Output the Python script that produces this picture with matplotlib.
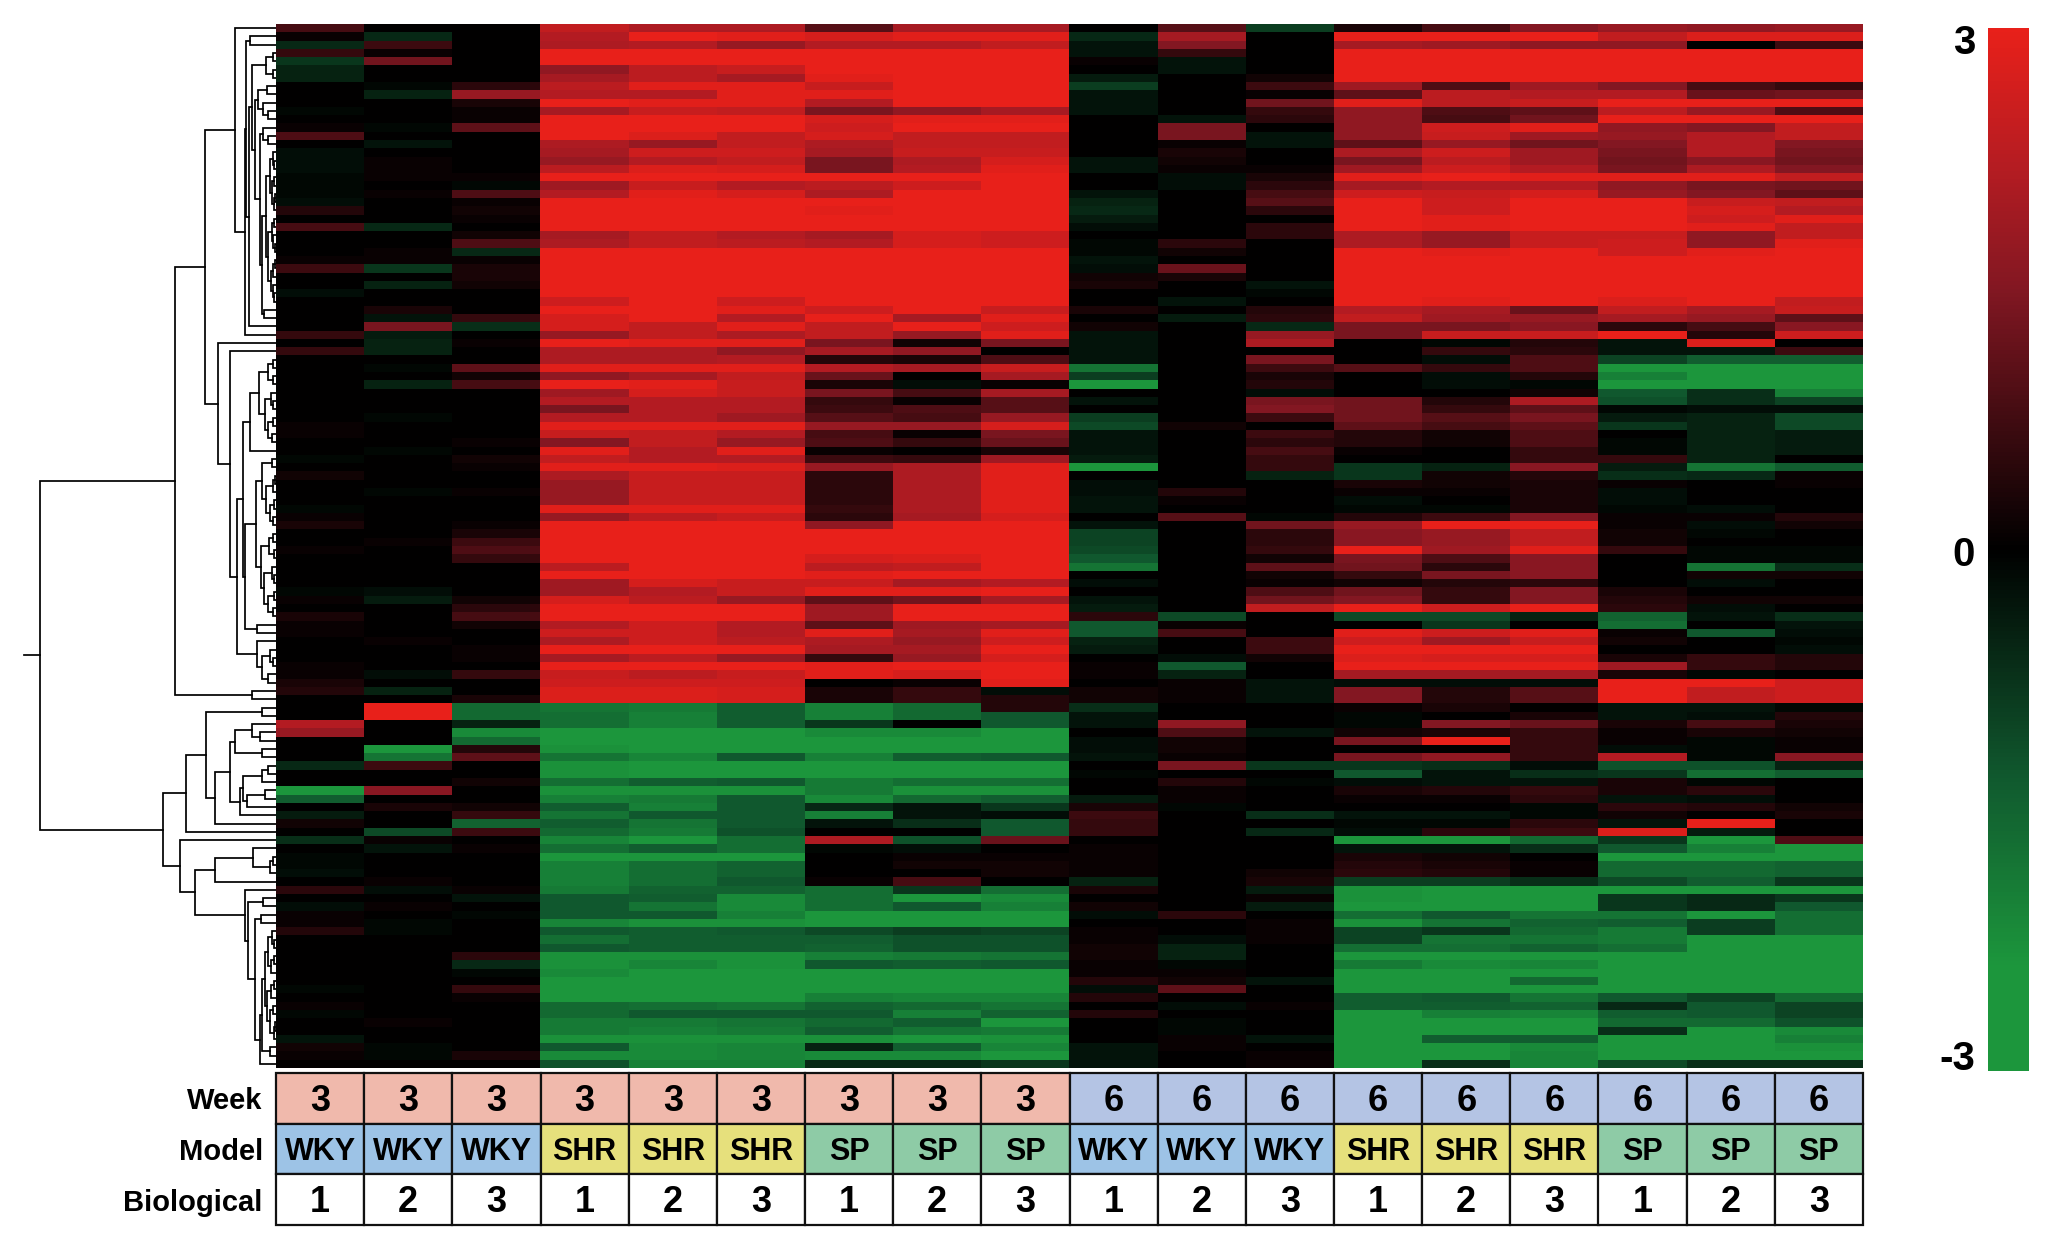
#!/usr/bin/env python3
# -*- coding: utf-8 -*-
import matplotlib
matplotlib.use("Agg")
import matplotlib.pyplot as plt
from matplotlib.colors import LinearSegmentedColormap
from matplotlib.patches import Rectangle
import numpy as np

# log2 fold change per gene, in tenths, read top to bottom. One list per sample.
wky3_1 = [8,1,-6,6,-8,-5,-5,0,0,0,-1,0,1,9,0,-2,-2,-2,-1,-1,-1,
          -2,4,0,8,0,0,0,1,7,0,0,-2,0,0,0,0,6,0,6,0,0,
          0,0,0,0,0,0,1,1,0,0,-1,0,2,0,0,0,-1,1,3,0,0,
          1,0,0,0,0,-1,1,0,3,1,1,0,0,0,1,1,3,4,0,0,0,
          22,18,0,0,0,-6,0,0,-24,-14,0,-4,2,0,-7,0,-1,-1,-2,0,5,
          0,-2,1,1,4,0,0,0,0,0,0,-1,0,1,-1,0,0,-3,2,1,0]
wky3_2 = [0,-6,7,1,13,0,0,-1,-5,0,0,0,-1,0,-3,0,1,1,1,0,1,
          0,0,0,-6,0,0,1,1,-8,0,-5,0,0,3,-3,14,-4,-5,-5,0,-1,
          0,-5,0,0,0,-1,0,0,0,-1,0,0,0,0,-1,0,0,0,0,0,1,
          0,0,0,0,0,-2,-4,0,0,0,0,1,0,0,0,-2,0,-5,0,30,30,
          0,0,0,-24,-18,7,0,0,16,0,3,0,0,-11,1,-3,0,0,0,1,-2,
          0,1,0,-1,-1,0,0,0,0,0,0,0,0,0,0,1,0,0,-1,-1,0]
wky3_3 = [0,0,0,0,0,0,0,5,18,3,1,1,11,0,0,0,0,0,1,-1,9,
          1,2,1,0,2,9,-6,1,3,3,2,0,0,0,6,-7,0,1,0,0,11,
          2,8,0,0,0,0,0,0,1,0,2,1,0,0,1,0,0,0,1,3,7,
          9,6,0,0,0,0,2,5,8,2,0,0,1,1,0,6,0,0,3,-16,-16,
          -5,-22,-16,4,11,0,0,2,0,0,2,6,-15,7,0,1,0,0,0,0,1,
          -3,0,-1,0,0,0,0,5,-6,-1,0,6,1,0,0,0,0,0,0,3,0]
shr3_1 = [24,22,21,30,30,17,20,23,22,30,20,30,30,30,21,20,18,23,30,19,22,
          30,30,30,30,20,21,30,30,30,30,30,30,26,30,27,27,18,30,21,21,29,
          17,30,19,22,14,22,29,25,15,29,24,29,21,18,18,18,29,18,30,30,30,
          30,30,23,30,19,19,27,30,30,22,26,21,30,20,30,25,26,28,28,-18,-17,
          -17,-24,-24,-23,-18,-23,-23,-17,-23,-20,-14,-18,-14,-16,-21,-17,-24,-20,-20,-20,-19,
          -13,-13,-13,-21,-13,-17,-13,-23,-23,-22,-24,-24,-24,-16,-16,-19,-19,-23,-13,-22,-12]
shr3_2 = [21,30,22,30,30,23,23,29,22,29,25,30,30,28,18,26,22,28,30,25,29,
          30,30,30,30,24,24,30,30,30,30,30,30,30,30,30,24,24,29,21,21,29,
          20,29,27,22,22,22,29,24,24,22,22,29,25,25,25,25,29,23,30,30,30,
          30,30,30,30,27,22,23,30,30,26,26,26,30,23,30,23,26,28,28,-19,-20,
          -20,-24,-24,-24,-21,-24,-24,-14,-23,-19,-20,-13,-18,-19,-24,-14,-24,-17,-17,-17,-15,
          -14,-18,-13,-23,-14,-14,-14,-23,-21,-24,-24,-24,-24,-17,-13,-19,-20,-23,-22,-22,-20]
shr3_3 = [21,29,18,30,30,25,20,29,29,29,24,30,30,24,24,26,24,27,30,22,27,
          30,30,30,30,22,23,30,30,30,30,30,30,26,29,22,29,21,29,17,22,29,
          24,25,25,22,22,19,29,22,18,29,22,28,25,25,25,25,29,25,30,30,30,
          30,30,30,30,25,25,18,30,30,22,22,23,30,18,30,25,26,27,27,-14,-14,
          -14,-24,-24,-24,-13,-24,-24,-13,-23,-13,-13,-13,-13,-12,-17,-17,-24,-15,-15,-13,-15,
          -22,-22,-20,-23,-13,-14,-14,-23,-23,-24,-24,-24,-24,-18,-13,-18,-19,-23,-21,-21,-20]
sp3_1 = [10,27,22,30,30,30,29,25,29,22,14,27,26,27,21,20,14,14,30,23,21,
         30,29,30,30,20,22,30,30,30,30,30,30,30,26,30,24,24,14,20,4,22,
         12,3,14,6,7,10,18,8,9,1,7,18,5,5,5,5,6,5,17,30,30,
         30,27,23,29,25,29,11,19,19,11,29,21,20,6,29,29,0,3,3,-20,-20,
         -8,-22,-24,-24,-20,-24,-24,-19,-19,-22,-6,-20,-3,0,21,-1,0,0,0,1,-17,
         -17,-17,-24,-24,-11,-14,-15,-20,-13,-24,-24,-24,-20,-15,-13,-16,-14,-23,-5,-22,-6]
sp3_2 = [20,29,22,30,30,30,30,30,30,30,17,29,30,24,24,25,21,22,30,26,30,
         30,30,30,30,27,27,30,30,30,30,30,30,30,30,20,30,18,2,17,3,20,
         0,-2,8,1,9,8,18,1,6,0,6,21,21,21,21,21,21,20,30,30,30,
         30,28,24,30,20,29,13,30,30,19,20,18,20,18,30,27,1,6,6,-16,-16,
         0,-22,-24,-24,-14,-24,-24,-17,-23,-16,-3,-3,-7,0,-12,-2,1,2,0,8,-8,
         -24,-13,-24,-24,-9,-12,-12,-19,-14,-24,-24,-24,-21,-16,-20,-14,-18,-24,-14,-22,-6]
sp3_3 = [20,29,24,30,30,30,30,30,30,30,20,29,30,24,24,25,27,29,30,30,30,
         30,30,30,30,26,26,30,30,30,30,30,30,30,25,29,26,29,14,0,9,25,
         20,1,20,10,10,18,27,14,12,3,19,29,29,29,29,29,29,27,30,30,30,
         30,30,30,30,22,30,20,30,30,20,29,26,30,27,30,30,29,-2,4,4,-13,
         -13,-24,-24,-24,-13,-24,-24,-17,-23,-14,-8,-2,-13,-13,12,0,1,2,2,0,-17,
         -22,-20,-24,-24,-10,-12,-12,-18,-13,-24,-24,-24,-21,-18,-15,-24,-19,-23,-21,-24,-8]
wky6_1 = [0,-6,-3,-3,1,0,-4,-9,-3,-3,-3,0,0,0,0,0,-3,-3,0,0,-3,
          -5,-6,-4,-2,0,-1,-1,-3,-2,2,3,0,0,3,0,2,-3,-3,-3,-3,-18,
          -9,-26,0,-3,0,-9,-11,-3,-3,-3,-4,-26,0,-2,-2,-3,-3,0,-3,-10,-10,
          -11,-13,-18,0,-2,0,-3,-4,5,-13,-13,-5,-4,0,1,1,0,2,2,-7,-3,
          -3,0,-2,-2,-3,0,-1,0,0,-4,3,7,6,6,0,1,1,1,1,-5,3,
          0,2,-2,0,1,1,2,2,1,1,4,-2,4,0,4,0,0,0,-3,-3,-3]
wky6_2 = [10,20,15,6,-3,-3,0,0,0,0,0,-3,14,14,1,3,2,1,-2,-2,0,
          0,0,0,0,0,5,2,0,12,3,0,0,-3,0,-4,0,0,0,0,0,0,
          0,0,0,0,0,0,2,0,0,0,0,0,0,0,4,1,0,10,0,0,0,
          0,0,0,0,0,0,0,0,-11,1,8,0,0,-2,-13,-5,1,1,1,0,0,
          17,9,2,2,1,14,0,4,1,1,-1,0,0,0,0,0,0,0,0,0,0,
          0,0,5,0,0,-2,-5,-5,-1,1,2,11,0,-2,0,-1,-1,1,1,0,0]
wky6_3 = [-9,0,0,0,0,0,2,7,1,13,6,5,0,-3,-3,0,0,1,3,5,8,
          10,5,0,5,5,0,0,0,0,0,-3,-1,0,4,5,-6,18,21,0,14,7,
          3,4,-2,14,15,7,0,7,5,8,6,6,-5,0,0,0,0,-1,13,5,5,
          6,2,11,2,1,9,13,24,0,0,0,7,7,2,0,0,-3,-3,-3,0,0,
          0,-3,0,0,0,-8,0,-1,0,0,0,-7,0,-6,0,0,0,0,2,3,-4,
          1,-4,0,1,1,1,0,0,0,0,-3,0,0,1,0,0,0,-3,0,1,1]
shr6_1 = [3,30,20,30,30,30,30,19,11,29,17,17,17,17,11,21,14,19,29,20,26,
          30,30,30,30,21,21,30,30,30,30,30,30,30,22,24,14,14,0,0,0,10,
          0,0,0,13,13,13,11,4,4,1,0,-8,-8,3,1,-2,-1,4,18,16,16,
          30,14,13,6,2,13,15,30,-11,0,29,26,30,28,30,20,-2,15,15,1,-1,
          -1,2,14,0,14,-8,-13,-2,3,1,0,-3,-1,-2,-24,-3,3,4,5,-9,-23,
          -23,-24,-17,-23,-10,-10,-17,-24,-19,-24,-24,-24,-14,-14,-24,-24,-24,-24,-24,-24,-24]
shr6_2 = [8,30,19,30,30,30,30,9,23,23,9,8,26,25,18,26,23,26,30,22,25,
          26,26,29,29,18,18,29,30,30,30,30,30,29,20,19,14,25,-1,6,-2,6,
          -2,-2,0,4,6,10,8,2,2,0,0,-5,2,2,1,0,-1,7,30,18,18,
          19,9,5,14,4,6,6,26,-11,-8,26,19,30,27,30,20,-2,4,4,3,0,
          15,3,30,0,17,-7,-3,-3,4,1,0,-3,-1,5,-24,-3,2,3,4,-9,-24,
          -24,-24,-13,-18,-8,-18,-17,-24,-22,-24,-24,-24,-13,-14,-20,-24,-24,-14,-24,-24,-7]
shr6_3 = [15,30,17,30,30,30,30,19,22,25,11,13,29,19,13,19,19,22,29,22,27,
          30,30,30,30,25,25,30,30,30,30,30,30,30,12,18,16,25,4,5,9,9,
          4,-1,2,21,11,14,11,9,9,6,6,16,4,3,3,3,3,15,30,24,24,
          29,16,16,16,5,15,15,30,-5,0,29,25,30,27,30,20,-2,10,10,0,3,
          12,6,6,6,6,-2,-7,-3,6,5,-1,-1,5,7,-16,-7,0,1,1,-7,-24,
          -24,-24,-18,-15,-16,-18,-15,-24,-21,-24,-16,-24,-18,-15,-21,-24,-24,-14,-22,-21,-21]
sp6_1 = [18,24,17,30,30,30,30,15,22,30,23,30,17,18,15,14,13,14,29,17,18,
         30,30,30,30,25,26,26,30,30,30,30,30,28,24,20,5,30,-3,-3,-10,-24,
         -20,-24,-13,-12,-1,-4,-8,0,-1,-1,6,-4,-7,1,-2,-2,-1,1,1,2,2,
         6,0,0,0,0,3,4,5,-15,-17,1,2,0,3,19,3,30,30,30,-3,-3,
         3,1,1,-2,22,-12,-8,3,3,-3,5,2,-3,28,-8,-13,-24,-16,-16,-11,-24,
         -8,-8,-18,-14,-19,-19,-17,-24,-24,-24,-24,-24,-13,-6,-14,-16,-7,-24,-24,-24,-11]
sp6_2 = [17,28,0,30,30,30,30,8,12,30,18,30,15,22,22,22,16,21,29,14,15,
         25,27,26,29,17,17,29,30,30,30,30,30,30,20,18,8,4,28,-3,-14,-24,
         -24,-24,-7,-7,-2,-5,-5,-5,-5,-5,-5,-18,-6,0,0,0,-2,1,-2,-1,0,
         -1,-1,-18,2,-2,0,2,-2,-3,0,-13,0,0,6,6,-1,30,24,24,-3,-2,
         8,3,-1,-1,-1,-12,-17,-1,5,-2,4,0,30,-4,-24,-20,-24,-16,-16,-14,-24,
         -6,-6,-24,-9,-9,-24,-24,-24,-24,-24,-24,-24,-10,-13,-13,-16,-24,-24,-24,-24,-7]
sp6_3 = [18,28,7,30,30,30,30,6,13,30,9,30,24,24,15,14,13,15,24,13,11,
         24,22,29,24,24,29,30,30,30,30,30,30,24,25,11,16,26,0,7,-14,-24,
         -24,-24,-20,-10,-2,-11,-11,-4,-4,-4,0,-14,1,1,0,0,0,4,2,0,0,
         -1,-1,-7,2,0,0,2,0,-7,-3,-2,-1,-2,4,4,0,26,26,26,-1,4,
         3,2,1,1,16,-5,-14,0,0,0,2,3,0,0,9,-24,-24,-15,-15,-8,-24,
         -8,-13,-17,-17,-17,-24,-24,-24,-24,-24,-24,-24,-16,-10,-10,-12,-22,-20,-23,-24,-7]

weeks = ["3"] * 9 + ["6"] * 9
models = (["WKY"] * 3 + ["SHR"] * 3 + ["SP"] * 3) * 2
biological = ["1", "2", "3"] * 6
row_names = ["Week", "Model", "Biological"]

week_colors = {"3": "#f0b9ac", "6": "#b4c4e4"}
model_colors = {"WKY": "#9dc3e6", "SHR": "#e6e07c", "SP": "#8ecba6"}

# gene tree: [distance, upper child, lower child], 0 is a single gene
tree_a = [41, 0, [31, [30, [26, 0, 0], [27, [24, [10, [3, 0, 0], [3, 0, 0]],
          [21, [18, [9, 0, 0], [13, 0, [8, 0, 0]]],
           [16, [13, 0, [8, 0, 0]],
            [14, [10, [6, [3, 0, [2, 0, 0]], [4, [2, 0, 0], [2, [1, 0, 0], 0]]],
              [8, [4, [2, 0, 0], [3, 0, [1, 0, 0]]], [5, [3, [1, 0, 0], 0], [3, 0, [2, 0, 0]]]]],
             [12, 0, 0]]]]], 0]], 0]]
tree_q = [26, [17, [8, [3, 0, 0], [3, 0, 0]], [11, [5, 0, [3, 0, 0]], [8, [3, 0, 0], [4, 0, 0]]]], 0]
tree_v = [14, [4, 0, 0], [10, [3, [1, 0, 0], 0], [6, [2, 0, 0], [3, 0, 0]]]]
tree_w = [15, [7, [3, 0, 0], [2, 0, 0]], [12, [4, 0, [2, 0, 0]], [8, [2, 0, 0], [3, 0, 0]]]]
tree_p = [19, 0, [14, [6, 0, [3, 0, 0]], [8, 0, 0]]]
tree_b = [58, 0, [46, 0, [39, [33, tree_q, [31, [20, tree_v, tree_w], [19, 0, 0]]], tree_p]]]
tree_up = [101, [71, tree_a, tree_b], [24, 0, 0]]

tree_c = [70, [14, 0, 0], [61, [46, [41, [24, 0, [16, 0, 0]], [14, 0, 0]],
          [36, [33, [14, [8, 0, 0], 0], [29, [11, 0, 0], 0]], 0]], 0]]
tree_y = [11, [8, [4, 0, [2, 0, 0]], [5, [2, 0, 0], 0]],
          [9, [5, [2, 0, 0], 0], [6, [3, 0, 0], [2, [1, 0, 0], 0]]]]
tree_d = [31, 0, [28, [13, 0, 0], [21, [15, 0, 0], [16, [14, tree_y, [6, 0, 0]], 0]]]]
tree_low = [113, [90, tree_c, 0], [96, 0, [81, [61, [23, 0, [6, [3, 0, 0], 0]], 0], tree_d]]]
tree_root = [236, tree_up, tree_low]


W, H = 2055, 1253


def box(x0, y0, x1, y1):
    return [x0 / W, 1 - y1 / H, (x1 - x0) / W, (y1 - y0) / H]


plt.rcParams['font.family'] = ['Liberation Sans', 'DejaVu Sans']
plt.rcParams['font.weight'] = 'bold'

fig = plt.figure(figsize=(W / 100, H / 100), dpi=100)

# green - black - red, the ends saturate a bit before +-3
cmap = LinearSegmentedColormap.from_list("gbr", [
    (0.0, "#1c963c"), (0.1, "#1c963c"), (0.283, "#10582e"), (0.5, "#000000"),
    (0.75, "#821722"), (0.867, "#b41c22"), (1.0, "#e8201a")])

samples = [wky3_1, wky3_2, wky3_3, shr3_1, shr3_2, shr3_3, sp3_1, sp3_2, sp3_3,
           wky6_1, wky6_2, wky6_3, shr6_1, shr6_2, shr6_3, sp6_1, sp6_2, sp6_3]
matriz = np.array(samples).T / 10
n_genes, n_samples = matriz.shape

ax = fig.add_axes(box(276, 24, 1863, 1068))
im = ax.imshow(matriz, cmap=cmap, vmin=-3, vmax=3, aspect='auto', interpolation='nearest')
ax.axis('off')

# dendrogram
axd = fig.add_axes(box(0, 24, 276, 1068))
axd.set_xlim(276, 0)
axd.set_ylim(n_genes, 0)
axd.axis('off')
contador = [0]


def dibujar(nodo):
    if nodo == 0:
        y = contador[0] + 0.5
        contador[0] += 1
        return y, 0
    h, a, b = nodo
    ya, ha = dibujar(a)
    yb, hb = dibujar(b)
    axd.plot([ha, h, h, hb], [ya, ya, yb, yb], color='black', lw=1.25, solid_joinstyle='miter')
    return (ya + yb) / 2, h


y_raiz, h_raiz = dibujar(tree_root)
axd.plot([h_raiz, 252], [y_raiz, y_raiz], color='black', lw=1.25)

# sample table under the heatmap
axt = fig.add_axes(box(276, 1073, 1863, 1225))
axt.set_xlim(0, n_samples)
axt.set_ylim(3, 0)
axt.axis('off')
for i in range(n_samples):
    filas = [(weeks[i], week_colors[weeks[i]], 26), (models[i], model_colors[models[i]], 22),
             (biological[i], "white", 26)]
    for j, (texto, color, size) in enumerate(filas):
        axt.add_patch(Rectangle((i, j), 1, 1, facecolor=color, edgecolor='#111111', lw=1.6, clip_on=False))
        axt.text(i + 0.5, j + 0.56, texto, ha='center', va='center', fontsize=size, color='black')
for j, nombre in enumerate(row_names):
    axt.text(-0.15, j + 0.56, nombre, ha='right', va='center', fontsize=21, color='black')

# colour bar
cax = fig.add_axes(box(1988, 28, 2029, 1071))
cb = fig.colorbar(im, cax=cax)
cb.outline.set_visible(False)
cb.set_ticks([])
for valor, y_px in [("3", 43), ("0", 555), ("-3", 1059)]:
    fig.text(1975 / W, 1 - y_px / H, valor, ha='right', va='center', fontsize=29)

plt.savefig("out.png", dpi=100)
plt.close()

# eof
